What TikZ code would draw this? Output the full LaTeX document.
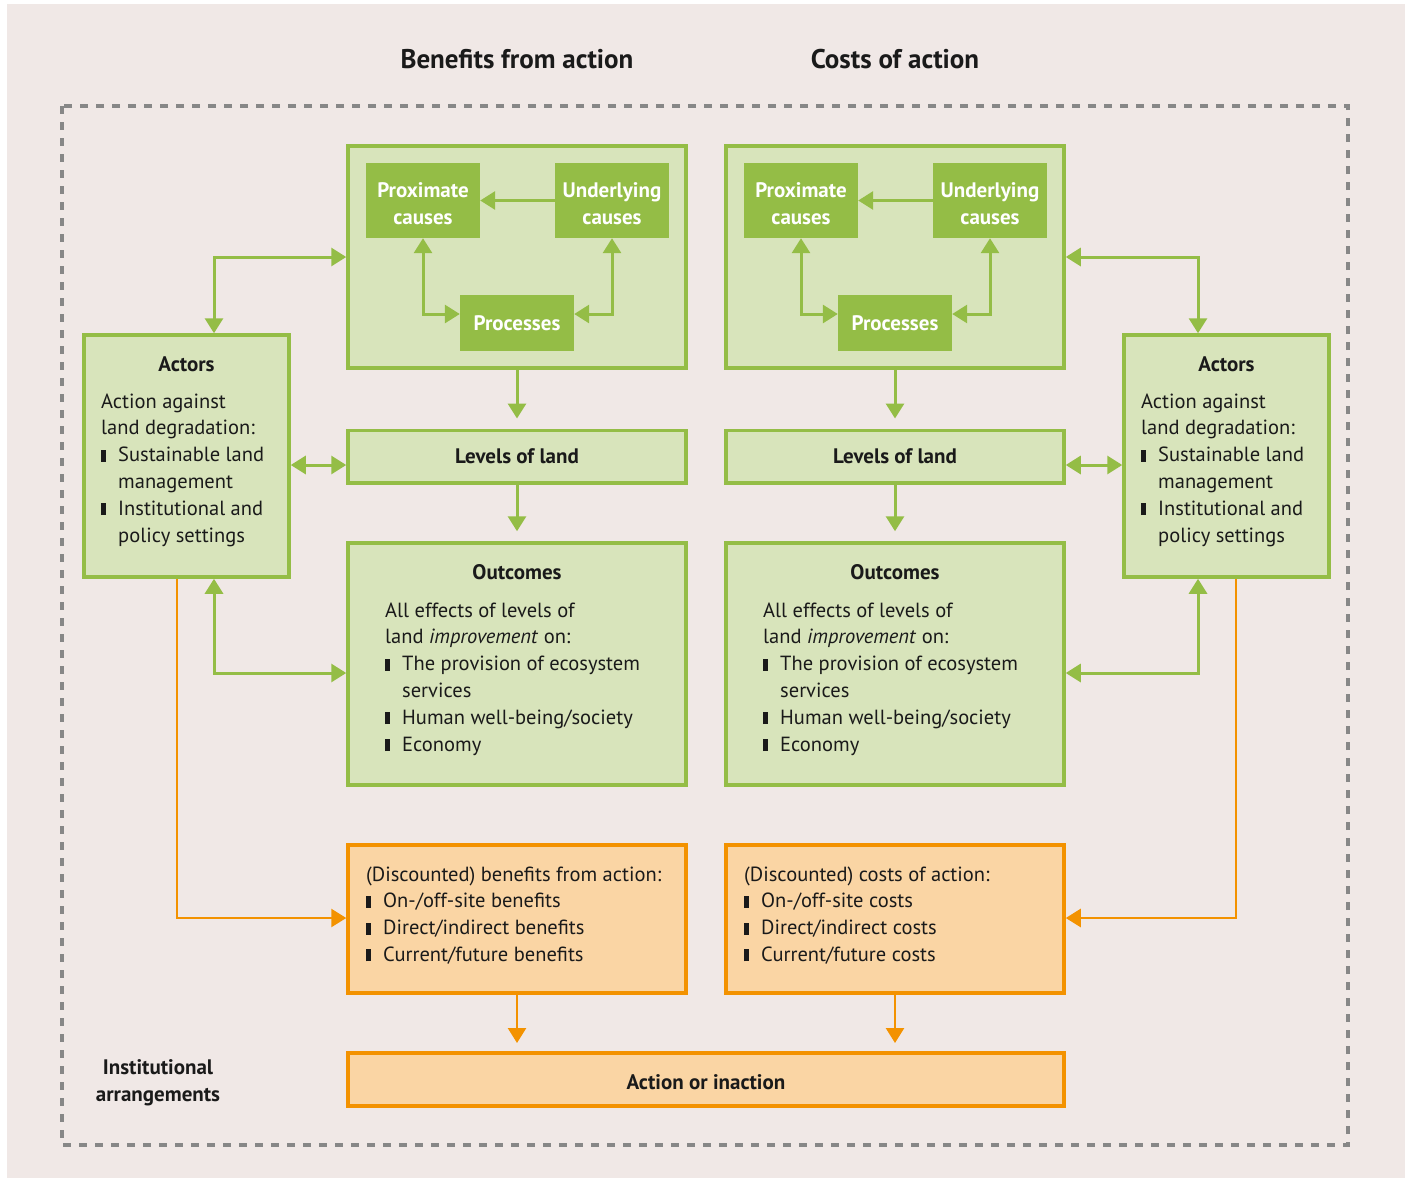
\documentclass[tikz,border=0pt]{standalone}
\usepackage{fontspec}
\setmainfont{PT Sans}
\usetikzlibrary{arrows.meta}
\definecolor{bgc}{HTML}{F0E8E6}
\definecolor{lgreen}{HTML}{D8E4BB}
\definecolor{dgreen}{HTML}{94BD46}
\definecolor{orng}{HTML}{F39200}
\definecolor{lorng}{HTML}{FAD5A4}
\definecolor{dgrey}{HTML}{878787}
\definecolor{txt}{HTML}{1A1A1A}
\newcommand\bul{\makebox[17pt][l]{\rule{4.8pt}{12pt}}}
\newcommand\cont{\hspace*{17pt}}
\begin{document}
\begin{tikzpicture}[x=1pt,y=-1pt,
  gbox/.style={draw=dgreen,fill=lgreen,line width=3.5pt,inner sep=0pt},
  obox/.style={draw=orng,fill=lorng,line width=3.5pt,inner sep=0pt},
  dbox/.style={fill=dgreen,inner sep=0pt,text=white,align=center,
     font=\bfseries\fontsize{21}{27}\selectfont},
  ttl/.style={inner sep=0pt,text=txt,font=\bfseries\fontsize{21}{27}\selectfont},
  body/.style={inner sep=0pt,text=txt,align=left,anchor=base west,
     font=\fontsize{20.5}{26.8}\selectfont},
  gline/.style={draw=dgreen,line width=3pt},
  garr/.style={gline,-{Triangle[length=15pt,width=18pt]}},
  garrr/.style={gline,{Triangle[length=15pt,width=18pt]}-{Triangle[length=15pt,width=18pt]}},
  oarr/.style={draw=orng,line width=2.5pt,-{Triangle[length=15pt,width=18pt]}},
]
\useasboundingbox (0,0) rectangle (1411,1178);
\fill[bgc] (7,4) rectangle (1405,1178);
\draw[dgrey,line width=3.5pt,dash pattern=on 8pt off 8pt] (62,106) rectangle (1348,1145);

% titles
\node[ttl,font=\bfseries\fontsize{27}{30}\selectfont] (t1) at (517,59) {Benefits from action};
\node[ttl,font=\bfseries\fontsize{27}{30}\selectfont] (t2) at (895,59) {Costs of action};

% big boxes
\node[gbox,minimum width=338,minimum height=222] (bigL) at (517,257) {};
\node[gbox,minimum width=338,minimum height=222] (bigR) at (895,257) {};
\node[dbox,minimum width=114,minimum height=75,text height=48pt,text depth=0pt] (pxL) at (423,200.5) {Proximate\\causes};
\node[dbox,minimum width=114,minimum height=75,text height=48pt,text depth=0pt] (unL) at (612,200.5) {Underlying\\causes};
\node[dbox,minimum width=114,minimum height=56] (prL) at (517,323) {Processes};
\node[dbox,minimum width=114,minimum height=75,text height=48pt,text depth=0pt] (pxR) at (801,200.5) {Proximate\\causes};
\node[dbox,minimum width=114,minimum height=75,text height=48pt,text depth=0pt] (unR) at (990,200.5) {Underlying\\causes};
\node[dbox,minimum width=114,minimum height=56] (prR) at (895,323) {Processes};

% levels
\node[gbox,ttl,minimum width=338,minimum height=52.5,draw=dgreen,fill=lgreen,line width=3.5pt] (levL) at (517,456.5) {Levels of land};
\node[gbox,ttl,minimum width=338,minimum height=52.5,draw=dgreen,fill=lgreen,line width=3.5pt] (levR) at (895,456.5) {Levels of land};

% outcomes
\node[gbox,minimum width=338,minimum height=242] (outL) at (517,664) {};
\node[gbox,minimum width=338,minimum height=242] (outR) at (895,664) {};
\node[ttl,anchor=base] (outLt) at (517,579) {Outcomes};
\node[ttl,anchor=base] (outRt) at (895,579) {Outcomes};
\node[body] (outLb) at (385,751) {All effects of levels of\\land \textit{improvement} on:\\\bul The provision of ecosystem\\\cont services\\\bul Human well-being/society\\\bul Economy};
\node[body] (outRb) at (763,751) {All effects of levels of\\land \textit{improvement} on:\\\bul The provision of ecosystem\\\cont services\\\bul Human well-being/society\\\bul Economy};

% actors
\node[gbox,minimum width=205,minimum height=242] (actL) at (186.5,456) {};
\node[gbox,minimum width=205,minimum height=242] (actR) at (1226.5,456) {};
\node[ttl,anchor=base] (actLt) at (186.5,371) {Actors};
\node[ttl,anchor=base] (actRt) at (1226.5,371) {Actors};
\node[body] (actLb) at (101,542) {Action against\\land degradation:\\\bul Sustainable land\\\cont management\\\bul Institutional and\\\cont policy settings};
\node[body] (actRb) at (1141,542) {Action against\\land degradation:\\\bul Sustainable land\\\cont management\\\bul Institutional and\\\cont policy settings};

% discounted
\node[obox,minimum width=338,minimum height=148] (disL) at (517,919) {};
\node[obox,minimum width=338,minimum height=148] (disR) at (895,919) {};
\node[body] (disLb) at (366,961.4) {(Discounted) benefits from action:\\\bul On-/off-site benefits\\\bul Direct/indirect benefits\\\bul Current/future benefits};
\node[body] (disRb) at (744,961.4) {(Discounted) costs of action:\\\bul On-/off-site costs\\\bul Direct/indirect costs\\\bul Current/future costs};

% action
\node[obox,ttl,minimum width=716,minimum height=53,draw=orng,fill=lorng,line width=3.5pt,text height=19pt,text depth=0pt] (act) at (706,1079.5) {Action or inaction};
\node[ttl,align=center] (inst) at (158,1083) {Institutional\\arrangements};

% coordinates
\coordinate (xaL) at (214,0);
\coordinate (xoL) at (177,0);
\coordinate (xaR) at (1198,0);
\coordinate (xoR) at (1236,0);
\coordinate (yt) at (0,257);
\coordinate (ylev) at (0,465);
\coordinate (yout) at (0,673);
\coordinate (ydis) at (0,918);
\coordinate (ypr) at (0,314);
\coordinate (endL) at (517,1043);
\coordinate (endR) at (895,1043);

% inner arrows
\draw[garr] (unL.west) -- (pxL.east);
\draw[garr] (unR.west) -- (pxR.east);
\draw[garrr] (pxL.south) |- (prL.west |- ypr);
\draw[garrr] (unL.south) |- (prL.east |- ypr);
\draw[garrr] (pxR.south) |- (prR.west |- ypr);
\draw[garrr] (unR.south) |- (prR.east |- ypr);

% vertical arrows
\draw[garr,shorten >=10pt] (bigL.south) -- (levL.north);
\draw[garr,shorten >=10pt] (levL.south) -- (outL.north);
\draw[garr,shorten >=10pt] (bigR.south) -- (levR.north);
\draw[garr,shorten >=10pt] (levR.south) -- (outR.north);
\draw[oarr] (disL.south) -- (endL);
\draw[oarr] (disR.south) -- (endR);

% actors connectors
\draw[garrr] (actL.north -| xaL) |- (bigL.west |- yt);
\draw[garrr] (actL.east |- ylev) -- (levL.west |- ylev);
\draw[garrr] (actL.south -| xaL) |- (outL.west |- yout);
\draw[oarr] (actL.south -| xoL) |- (disL.west |- ydis);
\draw[garrr] (actR.north -| xaR) |- (bigR.east |- yt);
\draw[garrr] (actR.west |- ylev) -- (levR.east |- ylev);
\draw[garrr] (actR.south -| xaR) |- (outR.east |- yout);
\draw[oarr] (actR.south -| xoR) |- (disR.east |- ydis);
\end{tikzpicture}
\end{document}
